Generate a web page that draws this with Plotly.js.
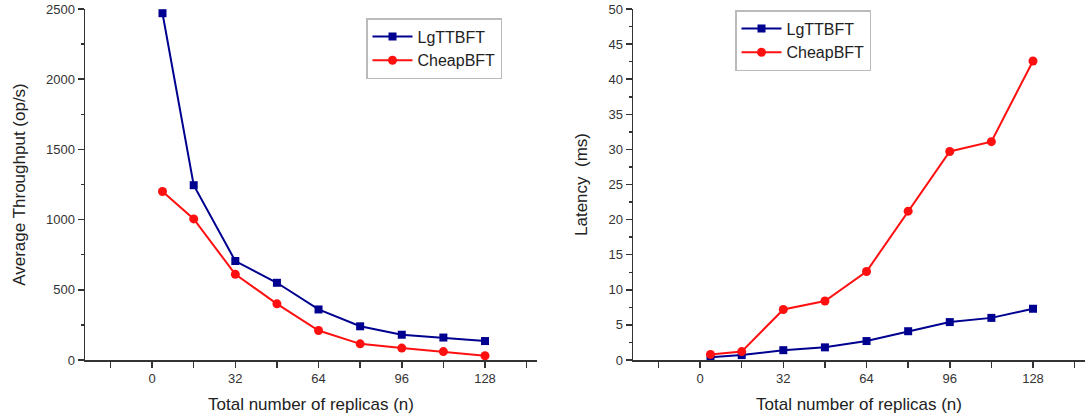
<!DOCTYPE html>
<html><head><meta charset="utf-8">
<script src="https://cdn.plot.ly/plotly-3.0.1.min.js"></script>
<style>body{margin:0;padding:0;background:#fff}#c{width:1087px;height:418px}</style>
</head><body><div id="c"></div>
<script>
const replicas = [4, 16, 32, 48, 64, 80, 96, 112, 128];
const throughputLgTTBFT = [2470, 1245, 705, 550, 360, 240, 180, 160, 135];
const throughputCheapBFT = [1200, 1005, 610, 400, 210, 115, 85, 60, 30];
const latencyLgTTBFT = [0.4, 0.7, 1.4, 1.8, 2.7, 4.1, 5.4, 6.0, 7.3];
const latencyCheapBFT = [0.8, 1.2, 7.2, 8.4, 12.6, 21.2, 29.7, 31.1, 42.6];
const xTicks = [0, 32, 64, 96, 128];

const blue = '#000090', red = '#ff1010';
const font = 'Liberation Sans, Arial, sans-serif';

const traces = [
  {x: replicas, y: throughputLgTTBFT, name: 'LgTTBFT', mode: 'lines+markers', xaxis: 'x', yaxis: 'y', legend: 'legend',
   line: {color: blue, width: 2}, marker: {symbol: 'square', size: 8, color: blue}},
  {x: replicas, y: throughputCheapBFT, name: 'CheapBFT', mode: 'lines+markers', xaxis: 'x', yaxis: 'y', legend: 'legend',
   line: {color: red, width: 2}, marker: {symbol: 'circle', size: 9, color: red}},
  {x: replicas, y: latencyLgTTBFT, name: 'LgTTBFT', mode: 'lines+markers', xaxis: 'x2', yaxis: 'y2', legend: 'legend2',
   line: {color: blue, width: 2}, marker: {symbol: 'square', size: 8, color: blue}},
  {x: replicas, y: latencyCheapBFT, name: 'CheapBFT', mode: 'lines+markers', xaxis: 'x2', yaxis: 'y2', legend: 'legend2',
   line: {color: red, width: 2}, marker: {symbol: 'circle', size: 9, color: red}}
];

function xax(domain, anchor) {
  return {domain: domain, anchor: anchor, range: [-25.8, 148], tickmode: 'array', tickvals: xTicks, ticktext: xTicks.map(String),
    showgrid: false, zeroline: false, showline: true, linecolor: '#333', linewidth: 1.5,
    ticks: 'outside', ticklen: 6, tickcolor: '#333', tickwidth: 1.5,
    minor: {tickmode: 'linear', tick0: 0, dtick: 16, ticks: 'outside', ticklen: 6, tickcolor: '#333', tickwidth: 1.5},
    tickfont: {size: 13, color: '#333', family: font},
    title: {text: 'Total number of replicas (n)', font: {size: 17, color: '#222', family: font}, standoff: 13}};
}
function yax(range, dtick, anchor, title) {
  return {domain: [0, 1], anchor: anchor, range: range, tickmode: 'linear', tick0: 0, dtick: dtick,
    showgrid: false, zeroline: false, showline: true, linecolor: '#333', linewidth: 1.5,
    ticks: 'outside', ticklen: 6, tickcolor: '#333', tickwidth: 1.5,
    minor: {dtick: dtick / 2, ticks: 'outside', ticklen: 3, tickcolor: '#333', tickwidth: 1.5},
    tickfont: {size: 13, color: '#333', family: font},
    title: {text: title, font: {size: 17, color: '#222', family: font}, standoff: 16}};
}

const legendStyle = {bgcolor: '#fff', bordercolor: '#bbb', borderwidth: 1.5, font: {size: 16, color: '#222', family: font},
  tracegroupgap: 0, itemwidth: 40, xanchor: 'left', yanchor: 'top'};

const layout = {
  width: 1087, height: 418, margin: {l: 0, r: 0, t: 9, b: 58},
  paper_bgcolor: '#fff', plot_bgcolor: '#fff', showlegend: true, font: {family: font},
  xaxis: xax([85/1087, 537/1087], 'y'),
  yaxis: yax([0, 2500], 500, 'x', 'Average Throughput (op/s)'),
  xaxis2: xax([633/1087, 1085/1087], 'y2'),
  yaxis2: yax([0, 50], 5, 'x2', 'Latency  (ms)'),
  legend: Object.assign({}, legendStyle, {x: 366/1087, y: 1 - (18-9)/351}),
  legend2: Object.assign({}, legendStyle, {x: 735/1087, y: 1 - (10-9)/351})
};

Plotly.newPlot('c', traces, layout, {staticPlot: true, displayModeBar: false});
</script></body></html>
